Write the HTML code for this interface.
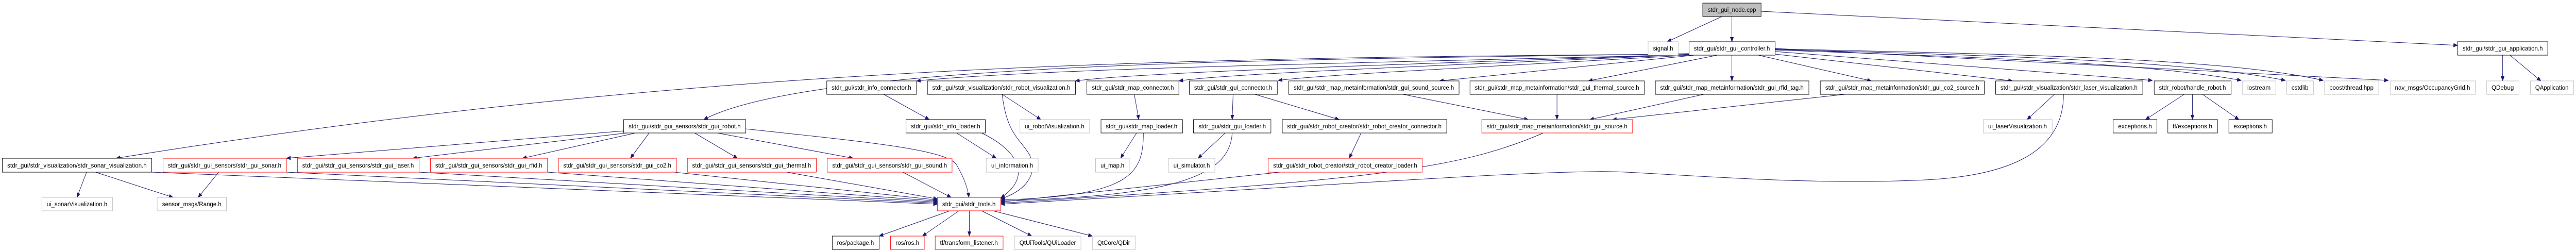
<!DOCTYPE html>
<html><head><meta charset="utf-8"><style>
html,body{margin:0;padding:0;background:#fff;width:100%;height:100%;overflow:hidden;}
svg{display:block;width:100vw;height:100vh;}
text{font-family:"Liberation Sans",sans-serif;font-size:12px;fill:#000;}
.b{fill:#fff;stroke:#000;stroke-width:1;}
.g{fill:#fff;stroke:#bfbfbf;stroke-width:1;}
.r{fill:#fff;stroke:#ff0000;stroke-width:1;}
.e{fill:none;stroke:#191970;stroke-width:1;}
</style></head><body>
<svg viewBox="0 0 5655 485" preserveAspectRatio="none" xmlns="http://www.w3.org/2000/svg">
<defs><marker id="a" markerWidth="10" markerHeight="8" refX="9" refY="4" orient="auto" markerUnits="userSpaceOnUse"><path d="M0,0 L10,4 L0,8 z" fill="#191970"/></marker></defs>
<g class="e" marker-end="url(#a)">
<path d="M3780,32 L3660,81"/>
<path d="M3802,32 L3802,81"/>
<path d="M3866,22 L5395,88"/>
<path d="M5494,107 L5494,157"/>
<path d="M5510,107 L5578,157"/>
<path d="M3708,104 C3000,116 1800,112 1545,232"/>
<path d="M3708,105 C2500,112 1500,130 255,307"/>
<path d="M3708,106 C3000,122 2300,132 2012,157"/>
<path d="M3708,106 C3100,124 2500,140 2361,157"/>
<path d="M3708,106 C3200,126 2700,142 2588,157"/>
<path d="M3708,107 C3300,128 2900,145 2806,156"/>
<path d="M3720,107 L3160,157"/>
<path d="M3770,107 L3487,157"/>
<path d="M3802,107 L3802,157"/>
<path d="M3860,107 L4108,157"/>
<path d="M3897,105 L4418,157"/>
<path d="M3897,100 L4725,156"/>
<path d="M3897,97 C4300,110 4700,120 4920,156"/>
<path d="M3897,96 C4400,108 4800,118 5017,156"/>
<path d="M3897,95 C4500,106 4900,116 5100,156"/>
<path d="M3897,94 L5243,156"/>
<path d="M1369,254 L629,307"/>
<path d="M1375,258 L906,307"/>
<path d="M1395,258 L1147,307"/>
<path d="M1425,258 L1384,307"/>
<path d="M1525,258 L1619,307"/>
<path d="M1575,258 L1873,307"/>
<path d="M1637,250 C1900,275 2080,290 2100,320 C2120,350 2125,370 2127,383"/>
<path d="M190,334 L169,383"/>
<path d="M210,334 L380,383"/>
<path d="M480,334 L435,383"/>
<path d="M333,334 L2058,396"/>
<path d="M629,334 L2058,394"/>
<path d="M920,334 L2058,392"/>
<path d="M1202,334 L2058,390"/>
<path d="M1480,334 L2058,388"/>
<path d="M1727,334 L2058,386"/>
<path d="M1982,334 L2088,383"/>
<path d="M1940,183 L2040,232"/>
<path d="M2100,258 L2187,307"/>
<path d="M2155,258 C2230,290 2270,340 2197,384"/>
<path d="M2200,183 L2285,232"/>
<path d="M2200,183 C2210,260 2240,270 2260,300 C2280,340 2250,370 2197,386"/>
<path d="M2490,183 L2500,232"/>
<path d="M2495,258 L2460,307"/>
<path d="M2510,258 C2510,340 2480,380 2197,388"/>
<path d="M2707,183 L2705,232"/>
<path d="M2755,183 L2940,232"/>
<path d="M2690,258 L2630,307"/>
<path d="M2705,258 C2700,350 2550,380 2197,390"/>
<path d="M2988,258 L2962,307"/>
<path d="M2810,334 L2197,392"/>
<path d="M3080,183 L3355,232"/>
<path d="M3418,183 L3418,232"/>
<path d="M3740,183 L3490,232"/>
<path d="M4050,183 L3540,232"/>
<path d="M3388,258 C3200,330 3000,350 2197,394"/>
<path d="M4510,183 L4450,232"/>
<path d="M4530,183 C4530,300 4400,345 4200,350 C3900,360 3600,330 3500,333 C3300,335 3000,355 2197,396"/>
<path d="M4795,183 L4710,232"/>
<path d="M4813,183 L4813,232"/>
<path d="M4835,183 L4915,232"/>
<path d="M2085,409 L1930,458"/>
<path d="M2105,409 L2025,458"/>
<path d="M2128,409 L2128,458"/>
<path d="M2155,409 L2265,458"/>
<path d="M2180,409 L2398,458"/>
</g>
<rect x="3738" y="6" width="128" height="26" fill="#bfbfbf" stroke="#000"/><text x="3802" y="23" text-anchor="middle" textLength="106" lengthAdjust="spacingAndGlyphs">stdr_gui_node.cpp</text>
<rect class="g" x="3618" y="81" width="66" height="26"/><text x="3651" y="98" text-anchor="middle" textLength="44" lengthAdjust="spacingAndGlyphs">signal.h</text>
<rect class="b" x="3708" y="81" width="189" height="26"/><text x="3802" y="98" text-anchor="middle" textLength="167" lengthAdjust="spacingAndGlyphs">stdr_gui/stdr_gui_controller.h</text>
<rect class="b" x="5395" y="81" width="198" height="26"/><text x="5494" y="98" text-anchor="middle" textLength="176" lengthAdjust="spacingAndGlyphs">stdr_gui/stdr_gui_application.h</text>
<rect class="b" x="1815" y="157" width="197" height="26"/><text x="1913" y="174" text-anchor="middle" textLength="175" lengthAdjust="spacingAndGlyphs">stdr_gui/stdr_info_connector.h</text>
<rect class="b" x="2036" y="157" width="325" height="26"/><text x="2198" y="174" text-anchor="middle" textLength="303" lengthAdjust="spacingAndGlyphs">stdr_gui/stdr_visualization/stdr_robot_visualization.h</text>
<rect class="b" x="2386" y="157" width="202" height="26"/><text x="2487" y="174" text-anchor="middle" textLength="180" lengthAdjust="spacingAndGlyphs">stdr_gui/stdr_map_connector.h</text>
<rect class="b" x="2611" y="157" width="193" height="26"/><text x="2707" y="174" text-anchor="middle" textLength="171" lengthAdjust="spacingAndGlyphs">stdr_gui/stdr_gui_connector.h</text>
<rect class="b" x="2829" y="157" width="374" height="26"/><text x="3016" y="174" text-anchor="middle" textLength="352" lengthAdjust="spacingAndGlyphs">stdr_gui/stdr_map_metainformation/stdr_gui_sound_source.h</text>
<rect class="b" x="3227" y="157" width="383" height="26"/><text x="3418" y="174" text-anchor="middle" textLength="361" lengthAdjust="spacingAndGlyphs">stdr_gui/stdr_map_metainformation/stdr_gui_thermal_source.h</text>
<rect class="b" x="3634" y="157" width="337" height="26"/><text x="3802" y="174" text-anchor="middle" textLength="315" lengthAdjust="spacingAndGlyphs">stdr_gui/stdr_map_metainformation/stdr_gui_rfid_tag.h</text>
<rect class="b" x="3996" y="157" width="360" height="26"/><text x="4176" y="174" text-anchor="middle" textLength="338" lengthAdjust="spacingAndGlyphs">stdr_gui/stdr_map_metainformation/stdr_gui_co2_source.h</text>
<rect class="b" x="4381" y="157" width="323" height="26"/><text x="4542" y="174" text-anchor="middle" textLength="301" lengthAdjust="spacingAndGlyphs">stdr_gui/stdr_visualization/stdr_laser_visualization.h</text>
<rect class="b" x="4729" y="157" width="169" height="26"/><text x="4813" y="174" text-anchor="middle" textLength="147" lengthAdjust="spacingAndGlyphs">stdr_robot/handle_robot.h</text>
<rect class="g" x="4923" y="157" width="73" height="26"/><text x="4959" y="174" text-anchor="middle" textLength="51" lengthAdjust="spacingAndGlyphs">iostream</text>
<rect class="g" x="5020" y="157" width="59" height="26"/><text x="5049" y="174" text-anchor="middle" textLength="37" lengthAdjust="spacingAndGlyphs">cstdlib</text>
<rect class="g" x="5103" y="157" width="119" height="26"/><text x="5162" y="174" text-anchor="middle" textLength="97" lengthAdjust="spacingAndGlyphs">boost/thread.hpp</text>
<rect class="g" x="5247" y="157" width="187" height="26"/><text x="5340" y="174" text-anchor="middle" textLength="165" lengthAdjust="spacingAndGlyphs">nav_msgs/OccupancyGrid.h</text>
<rect class="g" x="5459" y="157" width="71" height="26"/><text x="5494" y="174" text-anchor="middle" textLength="49" lengthAdjust="spacingAndGlyphs">QDebug</text>
<rect class="g" x="5555" y="157" width="95" height="26"/><text x="5602" y="174" text-anchor="middle" textLength="73" lengthAdjust="spacingAndGlyphs">QApplication</text>
<rect class="b" x="1369" y="232" width="268" height="26"/><text x="1503" y="249" text-anchor="middle" textLength="246" lengthAdjust="spacingAndGlyphs">stdr_gui/stdr_gui_sensors/stdr_gui_robot.h</text>
<rect class="b" x="1989" y="232" width="174" height="26"/><text x="2076" y="249" text-anchor="middle" textLength="152" lengthAdjust="spacingAndGlyphs">stdr_gui/stdr_info_loader.h</text>
<rect class="g" x="2239" y="232" width="153" height="26"/><text x="2315" y="249" text-anchor="middle" textLength="131" lengthAdjust="spacingAndGlyphs">ui_robotVisualization.h</text>
<rect class="b" x="2417" y="232" width="179" height="26"/><text x="2506" y="249" text-anchor="middle" textLength="157" lengthAdjust="spacingAndGlyphs">stdr_gui/stdr_map_loader.h</text>
<rect class="b" x="2620" y="232" width="170" height="26"/><text x="2705" y="249" text-anchor="middle" textLength="148" lengthAdjust="spacingAndGlyphs">stdr_gui/stdr_gui_loader.h</text>
<rect class="b" x="2815" y="232" width="361" height="26"/><text x="2995" y="249" text-anchor="middle" textLength="339" lengthAdjust="spacingAndGlyphs">stdr_gui/stdr_robot_creator/stdr_robot_creator_connector.h</text>
<rect class="r" x="3253" y="232" width="331" height="26"/><text x="3418" y="249" text-anchor="middle" textLength="309" lengthAdjust="spacingAndGlyphs">stdr_gui/stdr_map_metainformation/stdr_gui_source.h</text>
<rect class="g" x="4354" y="232" width="151" height="26"/><text x="4429" y="249" text-anchor="middle" textLength="129" lengthAdjust="spacingAndGlyphs">ui_laserVisualization.h</text>
<rect class="b" x="4639" y="232" width="96" height="26"/><text x="4687" y="249" text-anchor="middle" textLength="74" lengthAdjust="spacingAndGlyphs">exceptions.h</text>
<rect class="b" x="4759" y="232" width="109" height="26"/><text x="4813" y="249" text-anchor="middle" textLength="87" lengthAdjust="spacingAndGlyphs">tf/exceptions.h</text>
<rect class="b" x="4893" y="232" width="95" height="26"/><text x="4940" y="249" text-anchor="middle" textLength="73" lengthAdjust="spacingAndGlyphs">exceptions.h</text>
<rect class="b" x="5" y="307" width="328" height="27"/><text x="169" y="325" text-anchor="middle" textLength="306" lengthAdjust="spacingAndGlyphs">stdr_gui/stdr_visualization/stdr_sonar_visualization.h</text>
<rect class="r" x="358" y="307" width="271" height="27"/><text x="493" y="325" text-anchor="middle" textLength="249" lengthAdjust="spacingAndGlyphs">stdr_gui/stdr_gui_sensors/stdr_gui_sonar.h</text>
<rect class="r" x="653" y="307" width="267" height="27"/><text x="786" y="325" text-anchor="middle" textLength="245" lengthAdjust="spacingAndGlyphs">stdr_gui/stdr_gui_sensors/stdr_gui_laser.h</text>
<rect class="r" x="945" y="307" width="257" height="27"/><text x="1073" y="325" text-anchor="middle" textLength="235" lengthAdjust="spacingAndGlyphs">stdr_gui/stdr_gui_sensors/stdr_gui_rfid.h</text>
<rect class="r" x="1226" y="307" width="259" height="27"/><text x="1355" y="325" text-anchor="middle" textLength="237" lengthAdjust="spacingAndGlyphs">stdr_gui/stdr_gui_sensors/stdr_gui_co2.h</text>
<rect class="r" x="1509" y="307" width="283" height="27"/><text x="1650" y="325" text-anchor="middle" textLength="261" lengthAdjust="spacingAndGlyphs">stdr_gui/stdr_gui_sensors/stdr_gui_thermal.h</text>
<rect class="r" x="1816" y="307" width="274" height="27"/><text x="1953" y="325" text-anchor="middle" textLength="252" lengthAdjust="spacingAndGlyphs">stdr_gui/stdr_gui_sensors/stdr_gui_sound.h</text>
<rect class="g" x="2165" y="307" width="114" height="27"/><text x="2222" y="325" text-anchor="middle" textLength="92" lengthAdjust="spacingAndGlyphs">ui_information.h</text>
<rect class="g" x="2405" y="307" width="74" height="27"/><text x="2442" y="325" text-anchor="middle" textLength="52" lengthAdjust="spacingAndGlyphs">ui_map.h</text>
<rect class="g" x="2565" y="307" width="102" height="27"/><text x="2616" y="325" text-anchor="middle" textLength="80" lengthAdjust="spacingAndGlyphs">ui_simulator.h</text>
<rect class="r" x="2784" y="307" width="338" height="27"/><text x="2953" y="325" text-anchor="middle" textLength="316" lengthAdjust="spacingAndGlyphs">stdr_gui/stdr_robot_creator/stdr_robot_creator_loader.h</text>
<rect class="g" x="92" y="383" width="155" height="26"/><text x="169" y="400" text-anchor="middle" textLength="133" lengthAdjust="spacingAndGlyphs">ui_sonarVisualization.h</text>
<rect class="g" x="345" y="383" width="152" height="26"/><text x="421" y="400" text-anchor="middle" textLength="130" lengthAdjust="spacingAndGlyphs">sensor_msgs/Range.h</text>
<rect class="r" x="2058" y="383" width="139" height="26"/><text x="2127" y="400" text-anchor="middle" textLength="117" lengthAdjust="spacingAndGlyphs">stdr_gui/stdr_tools.h</text>
<rect class="b" x="1827" y="458" width="103" height="26"/><text x="1878" y="475" text-anchor="middle" textLength="81" lengthAdjust="spacingAndGlyphs">ros/package.h</text>
<rect class="r" x="1955" y="458" width="74" height="26"/><text x="1992" y="475" text-anchor="middle" textLength="52" lengthAdjust="spacingAndGlyphs">ros/ros.h</text>
<rect class="r" x="2053" y="458" width="149" height="26"/><text x="2127" y="475" text-anchor="middle" textLength="127" lengthAdjust="spacingAndGlyphs">tf/transform_listener.h</text>
<rect class="g" x="2227" y="458" width="146" height="26"/><text x="2300" y="475" text-anchor="middle" textLength="124" lengthAdjust="spacingAndGlyphs">QtUiTools/QUiLoader</text>
<rect class="g" x="2398" y="458" width="94" height="26"/><text x="2445" y="475" text-anchor="middle" textLength="72" lengthAdjust="spacingAndGlyphs">QtCore/QDir</text>
</svg>
</body></html>
